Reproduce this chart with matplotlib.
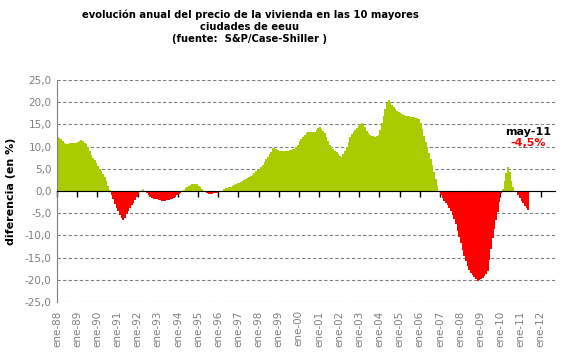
import numpy as np
import matplotlib
matplotlib.use("Agg")
import matplotlib.pyplot as plt
from matplotlib.ticker import FuncFormatter

# variacion anual (%) mensual, ene-88 .. may-11
y1988 = [12.2, 11.9, 11.6, 11.2, 10.9, 10.6, 10.6, 10.8, 10.9, 10.8, 10.7, 10.9]
y1989 = [11.0, 11.3, 11.4, 11.2, 10.9, 10.6, 9.8, 9.0, 8.2, 7.4, 6.9, 6.4]
y1990 = [5.6, 5.0, 4.4, 3.9, 3.1, 2.2, 1.2, 0.2, -0.9, -1.9, -2.9, -3.8]
y1991 = [-4.6, -5.4, -6.0, -6.5, -6.0, -5.2, -4.5, -3.8, -3.2, -2.6, -2.0, -1.4]
y1992 = [-0.8, -0.2, 0.3, 0.4, 0.1, -0.4, -0.9, -1.3, -1.6, -1.7, -1.8, -1.9]
y1993 = [-2.0, -2.1, -2.2, -2.2, -2.2, -2.1, -2.0, -1.9, -1.7, -1.5, -1.3, -1.0]
y1994 = [-0.7, -0.4, -0.1, 0.3, 0.6, 0.9, 1.2, 1.4, 1.5, 1.6, 1.6, 1.5]
y1995 = [1.2, 0.8, 0.4, 0.0, -0.3, -0.5, -0.6, -0.6, -0.6, -0.5, -0.5, -0.4]
y1996 = [-0.3, -0.1, 0.1, 0.4, 0.6, 0.7, 0.9, 1.0, 1.2, 1.4, 1.6, 1.8]
y1997 = [1.9, 2.1, 2.3, 2.5, 2.7, 2.9, 3.1, 3.3, 3.6, 4.0, 4.4, 4.8]
y1998 = [5.0, 5.3, 5.9, 6.5, 7.1, 7.7, 8.3, 8.8, 9.7, 9.6, 9.4, 9.2]
y1999 = [9.1, 9.0, 9.0, 9.0, 9.0, 9.1, 9.2, 9.3, 9.4, 9.5, 9.8, 10.4]
y2000 = [11.2, 11.8, 12.2, 12.7, 13.1, 13.2, 13.2, 13.2, 13.3, 13.3, 13.7, 14.1]
y2001 = [14.4, 14.0, 13.6, 13.1, 12.2, 11.3, 10.4, 9.9, 9.4, 9.0, 8.8, 8.3]
y2002 = [7.9, 7.7, 8.3, 9.0, 9.9, 11.0, 12.2, 12.8, 13.3, 13.7, 14.2, 14.7]
y2003 = [15.0, 15.3, 14.9, 14.4, 13.6, 13.0, 12.6, 12.4, 12.3, 12.2, 12.4, 12.7]
y2004 = [13.8, 15.3, 17.0, 18.5, 19.8, 20.5, 20.0, 19.4, 18.9, 18.5, 18.1, 17.8]
y2005 = [17.6, 17.4, 17.2, 17.0, 16.9, 16.8, 16.7, 16.6, 16.6, 16.5, 16.4, 16.2]
y2006 = [15.3, 14.0, 12.5, 11.0, 9.8, 8.6, 7.3, 5.8, 4.3, 2.6, 1.2, 0.0]
y2007 = [-0.8, -1.5, -2.2, -2.7, -3.2, -3.8, -4.5, -5.3, -6.2, -7.4, -9.0, -10.3]
y2008 = [-11.8, -13.3, -14.6, -15.8, -16.9, -17.8, -18.5, -19.0, -19.4, -19.9, -20.3, -20.1]
y2009 = [-19.8, -19.5, -19.2, -18.8, -18.0, -15.5, -13.0, -10.5, -8.5, -6.5, -4.8, -2.5]
y2010 = [-0.5, 0.5, 2.2, 4.0, 5.4, 4.2, 2.2, 0.8, 0.1, -0.2, -0.8, -1.5]
y2011 = [-2.2, -2.8, -3.3, -3.8, -4.3]

values = np.array(y1988 + y1989 + y1990 + y1991 + y1992 + y1993 + y1994 + y1995
                  + y1996 + y1997 + y1998 + y1999 + y2000 + y2001 + y2002 + y2003
                  + y2004 + y2005 + y2006 + y2007 + y2008 + y2009 + y2010 + y2011)
tick_years = list(range(1988, 2013))
tick_labels = ["ene-%02d" % (y % 100) for y in tick_years]
last_label = "may-11"
last_value = "-4,5%"

green = "#a8cc00"
red = "#ff0000"

fig = plt.figure(figsize=(5.68, 3.64), dpi=100)
ax = fig.add_axes([57 / 568, 1 - 302 / 364, 498 / 568, 222 / 364])

idx = np.arange(len(values))
colors = [green if v >= 0 else red for v in values]
ax.bar(idx, values, width=1.05, color=colors, linewidth=0)

ax.set_xlim(-0.5, 296)
ax.set_ylim(-25, 25)
ax.set_yticks(np.arange(-25, 26, 5))
ax.yaxis.set_major_formatter(FuncFormatter(lambda v, p: ("%.1f" % v).replace(".", ",")))
ax.tick_params(axis="y", length=0, labelsize=7.5, labelcolor="#808080", pad=4)
ax.grid(axis="y", color="#808080", linestyle=(0, (3, 2)), linewidth=0.8)
ax.set_axisbelow(True)

for s in ["top", "right"]:
    ax.spines[s].set_visible(False)
ax.spines["left"].set_color("#808080")
ax.spines["bottom"].set_position(("data", 0))
ax.spines["bottom"].set_color("black")
ax.spines["bottom"].set_zorder(5)

xt = [12 * (y - 1988) - 0.5 for y in tick_years]
ax.set_xticks(xt)
ax.tick_params(axis="x", direction="out", length=4, width=1, color="black", labelbottom=False)

# etiquetas de fecha abajo del grafico
sec = ax.secondary_xaxis(0.0)
sec.set_xticks(xt)
sec.set_xticklabels(tick_labels, rotation=90)
sec.tick_params(length=0, labelsize=7.5, labelcolor="#808080", pad=6)
sec.spines["bottom"].set_visible(False)

ax.set_ylabel("diferencia (en %)", fontsize=8, fontweight="bold", labelpad=6)

fig.text(250 / 568, 1 - 10 / 364,
         "evolución anual del precio de la vivienda en las 10 mayores\nciudades de eeuu\n(fuente:  S&P/Case-Shiller )",
         ha="center", va="top", fontsize=7.2, fontweight="bold", linespacing=1.25)

ax.text(len(values) - 1, 13.3, last_label, ha="center", va="center", fontsize=8, fontweight="bold")
ax.text(len(values) - 1, 10.8, last_value, ha="center", va="center", fontsize=8, fontweight="bold", color=red)

fig.savefig("out.png", dpi=100)
